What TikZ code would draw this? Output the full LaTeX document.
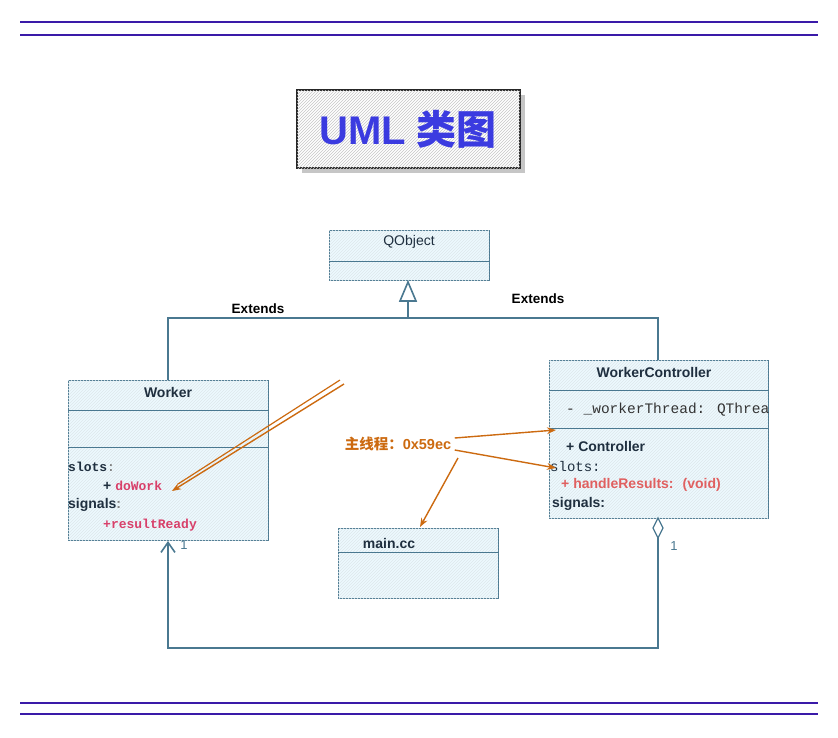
\documentclass[tikz,border=0pt]{standalone}
\usepackage{fontspec}
\setmainfont{Liberation Sans}
\newfontfamily\cjk{Noto Sans CJK SC}
\newfontfamily\mono{Liberation Mono}
\usetikzlibrary{patterns,arrows.meta}
\definecolor{ln}{HTML}{4A7890}
\definecolor{bar}{HTML}{3A1AA8}
\definecolor{org}{HTML}{CC6A10}
\definecolor{txt}{HTML}{1F2F3F}
\definecolor{red2}{HTML}{E06060}
\definecolor{pk}{HTML}{D8406A}
\definecolor{ttl}{HTML}{3B3BE0}
\begin{document}
\begin{tikzpicture}[x=1pt,y=-1pt,
 cls/.style={draw=ln,line width=0.9pt,fill=cyan!7},
 hat/.style={pattern=north east lines,pattern color=ln!18},
 conn/.style={draw=ln,line width=1.6pt},
 oarr/.style={draw=org,line width=1.4pt,-{Stealth[length=9pt]}},
 t/.style={text=txt,font=\fontsize{14}{16}\selectfont}]
\path[use as bounding box] (0,0) rectangle (838,737);
\foreach \y in {22,35,703,714} \draw[bar,line width=1.3pt] (20,\y) -- (818,\y);
% title
\fill[gray!45] (302,95) rectangle (525,173);
\filldraw[draw=gray!30!black,line width=2.5pt,fill=white] (297,90) rectangle (520,168);
\fill[hat,pattern color=gray!45] (297,90) rectangle (520,168);
\node (title) at (408,129) {\bfseries\color{ttl}\fontsize{40}{44}\selectfont UML {\cjk 类图}};
% QObject
\filldraw[cls] (329,230) rectangle (489,280); \fill[hat] (329,230) rectangle (489,280);
\draw[ln] (329,261) -- (489,261);
\node[t] (qo) at (409,242) {QObject};
% Worker
\filldraw[cls] (68,380) rectangle (268,540); \fill[hat] (68,380) rectangle (268,540);
\draw[ln] (68,410) -- (268,410); \draw[ln] (68,447) -- (268,447);
\node[t,font=\bfseries\fontsize{14}{16}\selectfont] (w) at (168,392) {Worker};
\node[t,anchor=west,inner sep=0pt,font=\mono\bfseries\fontsize{13}{15}\selectfont] (ws) at (68,467) {slots\textcolor{gray}{:}};
\node[t,anchor=west,inner sep=0pt] (wd) at (103,486) {\bfseries + \textcolor{pk}{\mono\fontsize{13}{15}\selectfont doWork}};
\node[t,anchor=west,inner sep=0pt,font=\bfseries\fontsize{14}{16}\selectfont] (wsig) at (68,505) {signals\textcolor{gray}{:}};
\node[anchor=west,inner sep=0pt,text=pk,font=\mono\bfseries\fontsize{13}{15}\selectfont] (wr) at (103,525) {+resultReady};
% WorkerController
\filldraw[cls] (549,360) rectangle (768,518); \fill[hat] (549,360) rectangle (768,518);
\draw[ln] (549,390) -- (768,390); \draw[ln] (549,428) -- (768,428);
\node[t,font=\bfseries\fontsize{14}{16}\selectfont] (wc) at (654,372) {WorkerController};
\begin{scope}
\clip (549,390) rectangle (768,428);
\node[t,anchor=west,inner sep=0pt,font=\mono\fontsize{14.5}{16}\selectfont,text=gray!40!black] (wt) at (566,410) {- \_workerThread: QThread};
\end{scope}
\node[t,anchor=west,inner sep=0pt,font=\bfseries\fontsize{14}{16}\selectfont] (wcc) at (566,446) {+ Controller};
\node[t,anchor=west,inner sep=0pt,font=\mono\fontsize{14}{16}\selectfont] (wcs) at (550,466) {slots:};
\node[anchor=west,inner sep=0pt,text=red2,font=\bfseries\fontsize{14}{16}\selectfont] (wch) at (561,485) {+ handleResults:~ (void)};
\node[t,anchor=west,inner sep=0pt,font=\bfseries\fontsize{14}{16}\selectfont] (wcg) at (552,504) {signals:};
% main.cc
\filldraw[cls] (338,528) rectangle (498,598); \fill[hat] (338,528) rectangle (498,598);
\draw[ln] (338,552) -- (498,552);
\node[t,font=\bfseries\fontsize{14}{16}\selectfont] (mc) at (389,543) {main.cc};
% inheritance
\coordinate (j) at (408,318);
\draw[conn] (168,380) -- (168,318) -- (658,318) -- (658,360);
\draw[conn] (j) -- (408,301);
\draw[conn,fill=white] (408,282) -- (400,301) -- (416,301) -- cycle;
\node[font=\bfseries\fontsize{13.5}{15}\selectfont] (e1) at (258,309) {Extends};
\node[font=\bfseries\fontsize{13.5}{15}\selectfont] (e2) at (538,299) {Extends};
% association
\draw[conn] (658,538) -- (658,648) -- (168,648) -- (168,542);
\draw[conn,-{Straight Barb[length=10pt,width=14pt]}] (168,560) -- (168,541);
\draw[draw=ln,line width=1.2pt,fill=white] (658,518) -- (663,528) -- (658,538) -- (653,528) -- cycle;
\node[text=ln,font=\fontsize{13}{15}\selectfont] (n1) at (184,545) {1};
\node[text=ln,font=\fontsize{13}{15}\selectfont] (n2) at (674,546) {1};
% orange
\node[text=org,font=\bfseries\fontsize{14.5}{17}\selectfont] (lab) at (398,444) {{\cjk 主线程：}0x59ec};
\coordinate (src) at (344,384);
\draw[oarr] (src) -- (172,491);
\draw[draw=org,line width=1.2pt] (340,380) -- (178,484);
\draw[oarr] (lab.east) ++(0,-6) -- (556,430);
\draw[oarr] (lab.east) ++(0,6) -- (556,468);
\draw[oarr] (458,458) -- (420,527);
\end{tikzpicture}
\end{document}
